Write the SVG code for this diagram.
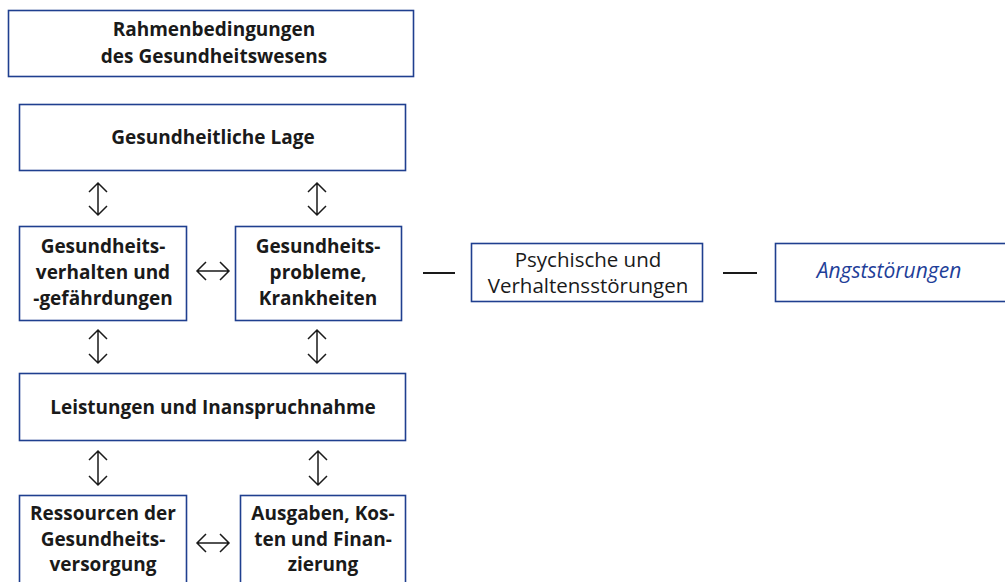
<svg xmlns="http://www.w3.org/2000/svg" width="1005" height="582" viewBox="0 0 1005 582">
<style>
.box{fill:#fff;stroke:#1f3f8f;stroke-width:1.6}
.t{font-family:"Open Sans","Liberation Sans",sans-serif;font-weight:700;font-size:19px;fill:#1a1a1a;text-anchor:middle}
.r{font-family:"Open Sans","Liberation Sans",sans-serif;font-weight:400;font-size:20.5px;fill:#1a1a1a;text-anchor:middle}
.i{font-family:"Open Sans","Liberation Sans",sans-serif;font-style:italic;font-size:21px;fill:#1f3f99;text-anchor:middle}
.c{fill:none;stroke:#1a1a1a;stroke-width:1.5}
.l{fill:none;stroke:#1a1a1a;stroke-width:1.8}
</style>
<rect width="1005" height="582" fill="#fff"/>
<g id="n-rahmen"><rect class="box" x="8.5" y="10.5" width="405" height="66"/><text class="t" x="214" y="36">Rahmenbedingungen</text><text class="t" x="214" y="63">des Gesundheitswesens</text></g>
<g id="n-lage"><rect class="box" x="19.5" y="104.5" width="386" height="66"/><text class="t" x="213" y="144">Gesundheitliche Lage</text></g>
<g id="n-verhalten"><rect class="box" x="19.5" y="226.5" width="167" height="94"/><text class="t" x="103" y="253">Gesundheits-</text><text class="t" x="103" y="279">verhalten und</text><text class="t" x="103" y="305">-gefährdungen</text></g>
<g id="n-probleme"><rect class="box" x="235.5" y="226.5" width="166" height="94"/><text class="t" x="318" y="253">Gesundheits-</text><text class="t" x="318" y="279">probleme,</text><text class="t" x="318" y="305">Krankheiten</text></g>
<g id="n-psych"><rect class="box" x="471.5" y="243.5" width="231" height="58"/><text class="r" x="588" y="267">Psychische und</text><text class="r" x="588" y="293">Verhaltensstörungen</text></g>
<g id="n-angst"><rect class="box" x="775.5" y="243.5" width="250" height="58"/><text class="i" x="889" y="278">Angststörungen</text></g>
<g id="n-leistungen"><rect class="box" x="19.5" y="373.5" width="386" height="67"/><text class="t" x="213" y="414">Leistungen und Inanspruchnahme</text></g>
<g id="n-ressourcen"><rect class="box" x="19.5" y="495.5" width="167" height="100"/><text class="t" x="103" y="520">Ressourcen der</text><text class="t" x="103" y="546">Gesundheits-</text><text class="t" x="103" y="571">versorgung</text></g>
<g id="n-ausgaben"><rect class="box" x="240.5" y="495.5" width="165" height="100"/><text class="t" x="323" y="520">Ausgaben, Kos-</text><text class="t" x="323" y="546">ten und Finan-</text><text class="t" x="323" y="571">zierung</text></g>
<g id="connectors">
<path class="c" d="M98,183V215M89,192L98,183L107,192M89,206L98,215L107,206"/>
<path class="c" d="M317,183V215M308,192L317,183L326,192M308,206L317,215L326,206"/>
<path class="c" d="M98,330V363M89,339L98,330L107,339M89,354L98,363L107,354"/>
<path class="c" d="M317,330V363M308,339L317,330L326,339M308,354L317,363L326,354"/>
<path class="c" d="M98,451V485M89,460L98,451L107,460M89,476L98,485L107,476"/>
<path class="c" d="M318,451V485M309,460L318,451L327,460M309,476L318,485L327,476"/>
<path class="c" d="M197,271H229M206,262L197,271L206,280M220,262L229,271L220,280"/>
<path class="c" d="M197,543H229M206,534L197,543L206,552M220,534L229,543L220,552"/>
<path class="l" d="M423,273H455M723,273H757"/>
</g>
</svg>
